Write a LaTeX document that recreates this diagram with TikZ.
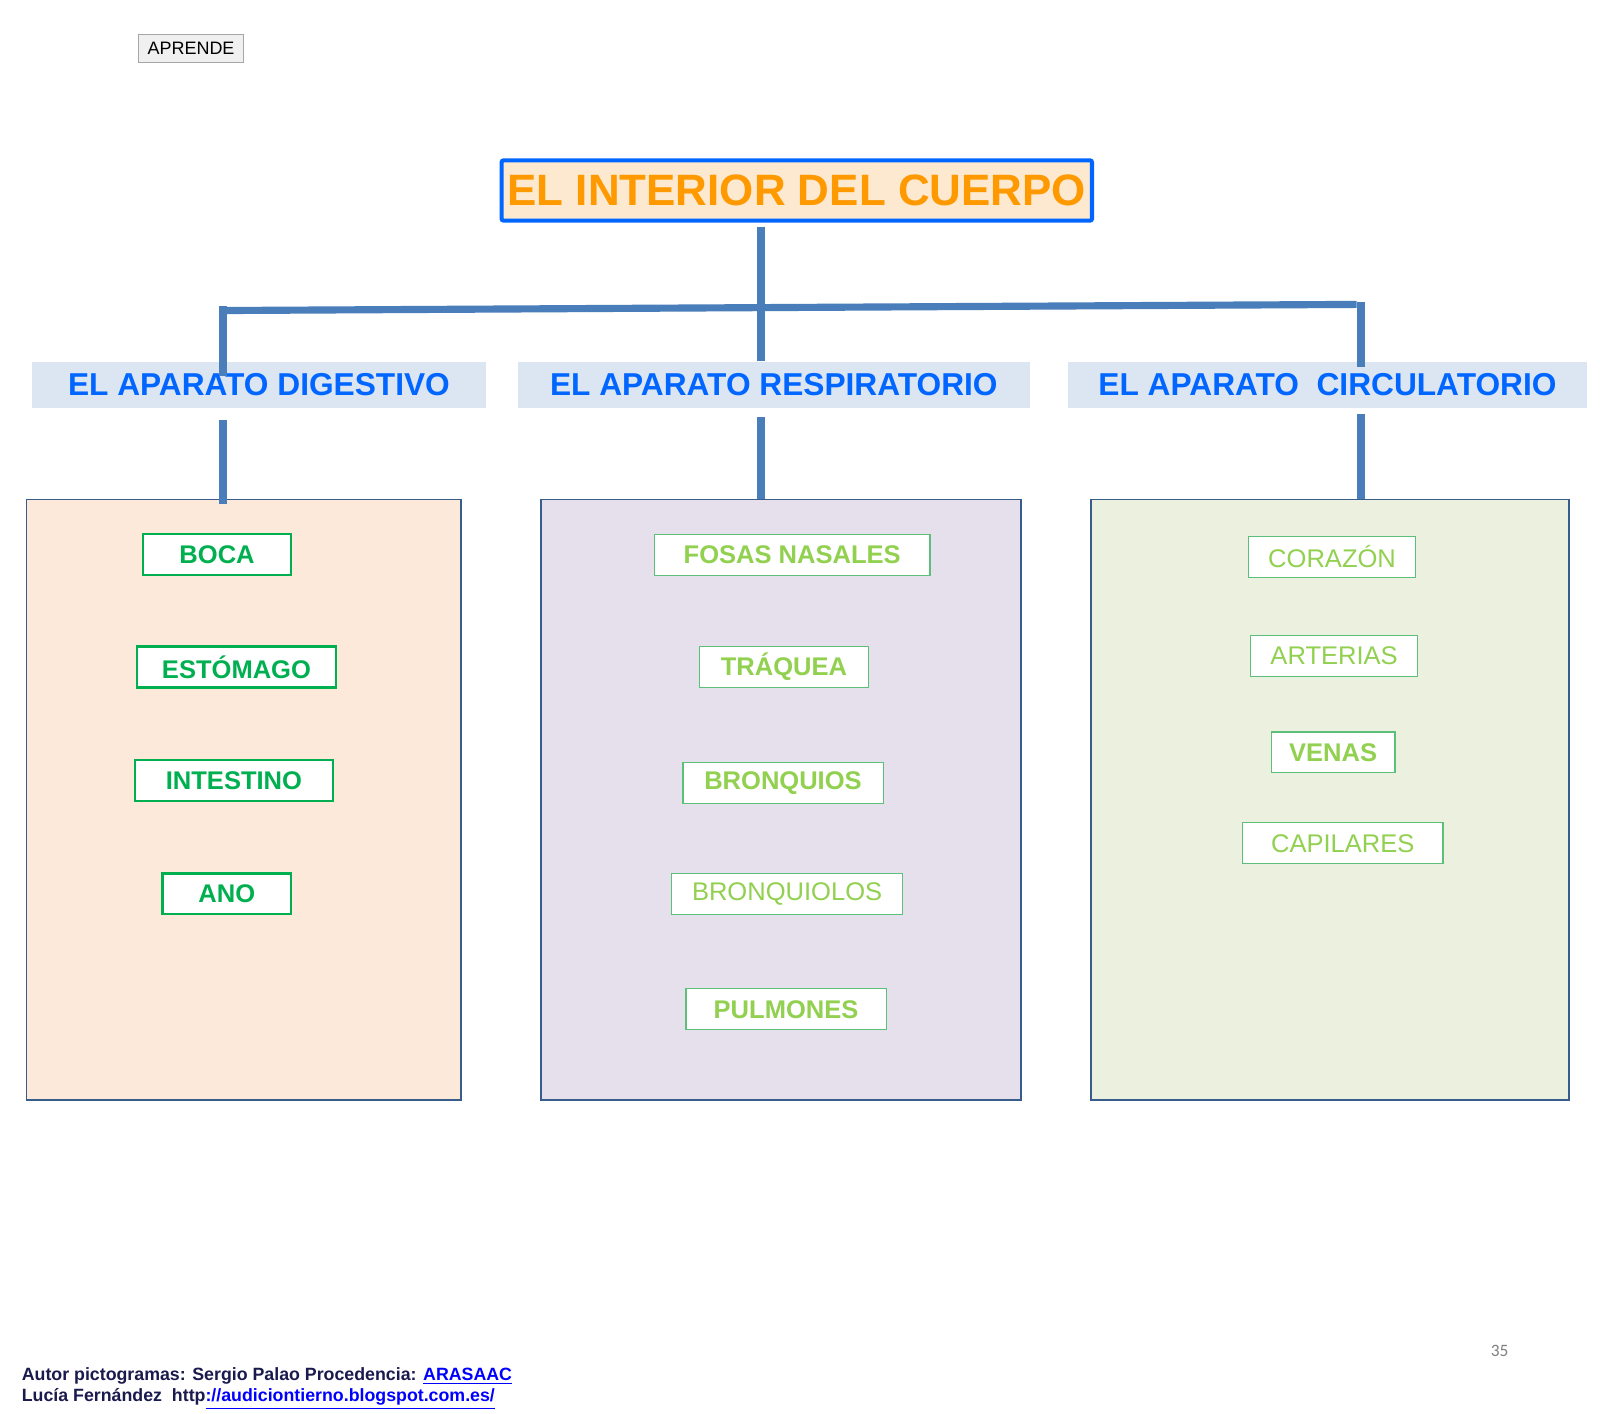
\documentclass[tikz,border=0pt]{standalone}
\usepackage{fontspec}
\setmainfont{Liberation Sans}
\newfontfamily\pagefont{Carlito}
\usepackage[dvipsnames, svgnames]{xcolor}
\usetikzlibrary{positioning}

\definecolor{busblue}{HTML}{4A7EBB}
\definecolor{titleblue}{HTML}{0066FF}
\definecolor{titlefill}{HTML}{FDE9D0}
\definecolor{titleorange}{HTML}{FF9900}
\definecolor{headfill}{HTML}{DCE6F2}
\definecolor{headblue}{HTML}{0066FF}
\definecolor{panelblue}{HTML}{385D8A}
\definecolor{digfill}{HTML}{FCE9DA}
\definecolor{respfill}{HTML}{E5E0EC}
\definecolor{circfill}{HTML}{EBF1DE}
\definecolor{darkgreen}{HTML}{00B050}
\definecolor{limegreen}{HTML}{92D050}
\definecolor{limeframe}{HTML}{5CBF7A}
\definecolor{footnavy}{HTML}{1A1A4E}
\definecolor{linkblue}{HTML}{0000FF}

\begin{document}
\begin{tikzpicture}[x=0.5pt, y=-0.5pt,
        button/.style={draw=gray!70, fill=gray!12, line width=0.5pt, inner sep=0pt,
            minimum width=51.5pt, minimum height=14pt, font=\fontsize{8.8}{10}\selectfont},
        title/.style={draw=titleblue, line width=2pt, fill=titlefill, text=titleorange,
            rounded corners=1pt, inner sep=0pt, minimum width=289pt, minimum height=29.5pt,
            font=\bfseries\fontsize{21.5}{24}\selectfont},
        header/.style={fill=headfill, text=headblue, inner sep=0pt, minimum height=22.5pt,
            font=\bfseries\fontsize{15.5}{18}\selectfont},
        panel/.style={draw=panelblue, line width=0.9pt, inner sep=0pt, minimum height=294pt},
        item/.style={fill=white, inner sep=0pt, minimum height=20pt},
        greenbox/.style={item, draw=darkgreen, line width=1.1pt, text=darkgreen,
            font=\bfseries\fontsize{12.5}{15}\selectfont},
        limebox/.style={item, draw=limeframe, line width=0.6pt, text=limegreen,
            font=\fontsize{12.5}{15}\selectfont},
        limebold/.style={limebox, font=\bfseries\fontsize{12.5}{15}\selectfont},
        bus/.style={busblue, line width=4pt},
        footer/.style={inner sep=0pt, anchor=base west, text=footnavy,
            font=\bfseries\fontsize{8.7}{10}\selectfont},
        ]

        \fill[white] (0,0) rectangle (1566.3,1384.2);
        \useasboundingbox (0,0) rectangle (1566.3,1384.2);

        % titulo
        \node[button] (aprende) at (187,47.5) {APRENDE};
        \node[title] (title) at (780,186.5) {EL INTERIOR DEL CUERPO};

        % aparatos
        \node[header, minimum width=222.5pt] (dig) at (253.5,376.5) {EL APARATO DIGESTIVO};
        \node[header, minimum width=250.5pt] (resp) at (757.5,376.5) {EL APARATO RESPIRATORIO};
        \node[header, minimum width=254.5pt] (circ) at (1299.5,376.5) {EL APARATO\ \ CIRCULATORIO};

        \node[panel, fill=digfill, minimum width=212.6pt] (digbox) at (238.5,783) {};
        \node[panel, fill=respfill, minimum width=234.6pt] (respbox) at (764.5,783) {};
        \node[panel, fill=circfill, minimum width=234.1pt] (circbox) at (1302,783) {};

        % organos
        \node[greenbox, minimum width=72.5pt] (boca) at (212.5,543) {BOCA};
        \node[greenbox, minimum width=97.5pt] (estomago) at (231.5,653) {ESTÓMAGO};
        \node[greenbox, minimum width=97pt] (intestino) at (229,764) {INTESTINO};
        \node[greenbox, minimum width=63pt] (ano) at (222,875) {ANO};

        \node[limebold, minimum width=135pt] (fosas) at (775.5,543) {FOSAS NASALES};
        \node[limebold, minimum width=83pt] (traquea) at (767.5,653) {TRÁQUEA};
        \node[limebold, minimum width=98pt] (bronquios) at (766.5,766.5) {BRONQUIOS};
        \node[limebox, minimum width=113pt] (bronquiolos) at (770.5,875) {BRONQUIOLOS};
        \node[limebold, minimum width=98pt] (pulmones) at (769.5,988) {PULMONES};

        \node[limebox, minimum width=81.5pt] (corazon) at (1304,545) {CORAZÓN};
        \node[limebox, minimum width=81.5pt] (arterias) at (1306,642) {ARTERIAS};
        \node[limebold, minimum width=60.5pt] (venas) at (1305,736.5) {VENAS};
        \node[limebox, minimum width=98pt] (capilares) at (1314.5,825.5) {CAPILARES};

        % lineas
        \coordinate (busL) at (218,304);
        \coordinate (busM) at (745,301);
        \coordinate (busR) at (1328,298);
        \coordinate (colR) at (1332,296);

        \draw[bus, shorten <=2pt] (title.south -| busM) -- (busM |- resp.north);
        \draw[bus, line width=3.5pt] (busL) -- (busR);
        \draw[bus] ([yshift=2pt]busL) -- ([yshift=-7pt]busL |- dig.north);
        \draw[bus] (colR) -- ([yshift=-3pt]colR |- circ.north);
        \draw[bus, shorten <=6pt] (dig.south -| busL) -- ([yshift=-2.5pt]busL |- digbox.north);
        \draw[bus, shorten <=4.5pt] (resp.south -| busM) -- (busM |- respbox.north);
        \draw[bus, shorten <=3pt] (circ.south -| colR) -- (colR |- circbox.north);

        % pie
        \node[footer] (autor) at (21,1351) {Autor pictogramas: Sergio Palao Procedencia: {\color{linkblue}\underline{ARASAAC}}};
        \node[footer] (lucia) at (21,1372) {Lucía Fernández\ \ http{\color{linkblue}\underline{://audiciontierno.blogspot.com.es/}}};
        \node[text=gray, font=\pagefont\fontsize{8.5}{10}\selectfont] (pag) at (1468,1322) {35};

        \end{tikzpicture}
\end{document}
